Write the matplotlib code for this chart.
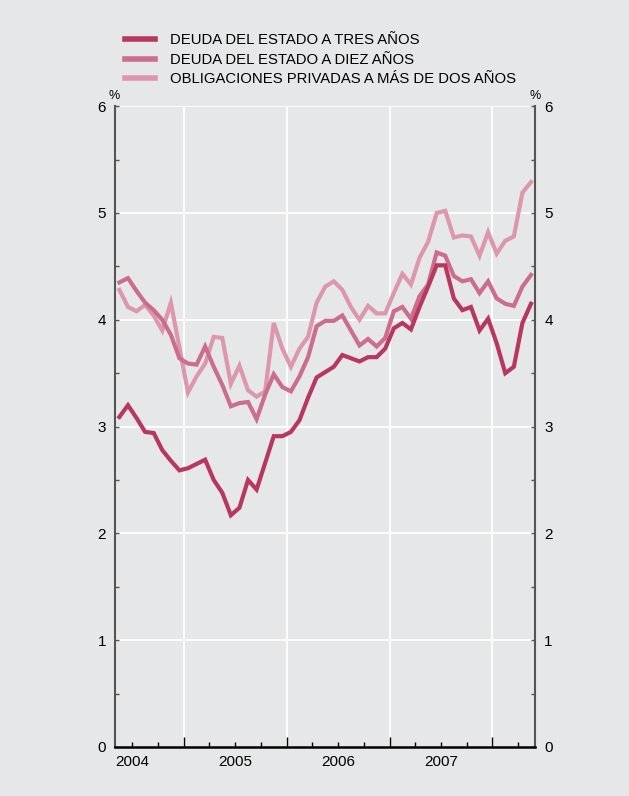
import numpy as np
import matplotlib.pyplot as plt

plt.rcParams['font.family'] = ['Liberation Sans', 'DejaVu Sans']

# monthly series, May 2004 - May 2008 (%)
tres_anos = [3.09, 3.20, 3.08, 2.95, 2.94, 2.78, 2.68, 2.59, 2.61, 2.65,
             2.69, 2.50, 2.38, 2.17, 2.24, 2.50, 2.41, 2.66, 2.91, 2.91,
             2.95, 3.06, 3.27, 3.46, 3.51, 3.56, 3.67, 3.64, 3.61, 3.65,
             3.65, 3.73, 3.92, 3.97, 3.91, 4.12, 4.31, 4.51, 4.51, 4.20,
             4.09, 4.12, 3.90, 4.01, 3.78, 3.50, 3.56, 3.97, 4.15]
diez_anos = [4.35, 4.39, 4.27, 4.16, 4.09, 4.00, 3.86, 3.64, 3.59, 3.58,
             3.75, 3.56, 3.39, 3.19, 3.22, 3.23, 3.07, 3.30, 3.49, 3.37,
             3.33, 3.47, 3.65, 3.94, 3.99, 3.99, 4.04, 3.90, 3.76, 3.82,
             3.75, 3.83, 4.08, 4.12, 4.01, 4.22, 4.33, 4.63, 4.60, 4.41,
             4.36, 4.38, 4.25, 4.36, 4.20, 4.15, 4.13, 4.31, 4.42]
privadas = [4.28, 4.12, 4.08, 4.14, 4.04, 3.90, 4.16, 3.74, 3.32, 3.47,
            3.59, 3.84, 3.83, 3.40, 3.57, 3.34, 3.28, 3.33, 3.97, 3.73,
            3.56, 3.73, 3.84, 4.16, 4.31, 4.36, 4.28, 4.12, 4.00, 4.13,
            4.06, 4.06, 4.25, 4.43, 4.33, 4.58, 4.73, 5.00, 5.02, 4.77,
            4.79, 4.78, 4.60, 4.82, 4.62, 4.74, 4.78, 5.19, 5.29]
years = [2004, 2005, 2006, 2007]
labels = ['DEUDA DEL ESTADO A TRES AÑOS', 'DEUDA DEL ESTADO A DIEZ AÑOS',
          'OBLIGACIONES PRIVADAS A MÁS DE DOS AÑOS']

# mid-month positions in fractional years, starting May 2004
x = 2004 + (np.arange(4, 4 + len(tres_anos)) + 0.5) / 12

bg = '#e6e7e9'
c_dark = '#b8375f'
c_mid = '#cc6d8d'
c_light = '#dd97ad'

fig = plt.figure(figsize=(6.29, 7.96), dpi=100, facecolor=bg)
ax = fig.add_axes([0.183, 0.0616, 0.668, 0.805], facecolor=bg)

ax.plot(x, privadas, color=c_light, lw=3.0, zorder=3, solid_joinstyle='miter')
ax.plot(x, diez_anos, color=c_mid, lw=3.0, zorder=4, solid_joinstyle='miter')
ax.plot(x, tres_anos, color=c_dark, lw=3.0, zorder=5, solid_joinstyle='miter')

ax.set_xlim(2004 + 4 / 12, 2008 + 5 / 12)
ax.set_ylim(0, 6)

# grid
for yv in range(1, 7):
    ax.axhline(yv, color='white', lw=1.3, zorder=1)
for xv in range(2005, 2009):
    ax.axvline(xv, color='white', lw=1.3, zorder=1)

ax.spines['top'].set_visible(False)
ax.spines['left'].set_color('#555555')
ax.spines['right'].set_color('#555555')
ax.spines['left'].set_linewidth(1.5)
ax.spines['right'].set_linewidth(1.5)
ax.spines['bottom'].set_linewidth(1.8)
ax.spines['bottom'].set_color('black')

ax.set_yticks(range(0, 7))
ax.set_yticks(np.arange(0.5, 6, 1), minor=True)
ax.tick_params(axis='y', which='both', direction='in', length=3, width=1,
               color='#555555', labelsize=11, left=True, right=True,
               labelleft=True, labelright=True, pad=6.5)

ax.set_xticks(range(2005, 2009))
ax.set_xticks(np.arange(2004.5, 2008.4, 0.25), minor=True)
ax.tick_params(axis='x', which='major', direction='in', length=7, width=1,
               color='black', labelbottom=False)
ax.tick_params(axis='x', which='minor', direction='in', length=3.5, width=1,
               color='black')

for yr in years:
    ax.text(yr + 0.5, -0.012, str(yr), transform=ax.get_xaxis_transform(),
            ha='center', va='top', fontsize=11)

ax.text(-0.002, 1.006, '%', transform=ax.transAxes, ha='center', va='bottom',
        fontsize=9)
ax.text(1.0, 1.006, '%', transform=ax.transAxes, ha='center', va='bottom',
        fontsize=9)

handles = [plt.Line2D([], [], color=c, lw=4) for c in (c_dark, c_mid, c_light)]
fig.legend(handles, labels, loc='upper left', bbox_to_anchor=(0.199, 0.958),
           frameon=False, fontsize=10.7, handlelength=2.0, handletextpad=1.0,
           labelspacing=0.36, borderpad=0, borderaxespad=0)

fig.savefig('out.png', dpi=100, facecolor=bg)
